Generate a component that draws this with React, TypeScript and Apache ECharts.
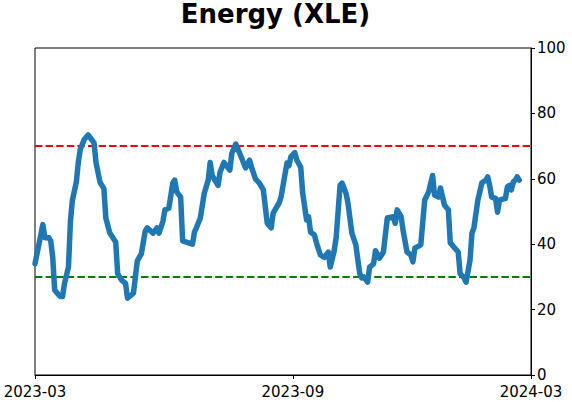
import React, { useEffect, useRef } from "react";
import * as echarts from "echarts";

// trading-day index since 2023-03-01 (axis spans 0..252 trading days)
const days = [
  0, 2, 4, 5, 7, 8, 9, 10, 12, 13, 14, 15, 17, 18, 19, 21, 22, 23, 25, 27, 30, 31, 33, 35, 36, 38, 41, 42, 44, 46,
  47, 50, 52, 54, 56, 57, 60, 62, 63, 65, 66, 68, 70, 71, 72, 74, 75, 78, 80, 81, 82, 84, 86, 88, 89, 90, 92, 93, 94,
  96, 99, 100, 102, 104, 107, 109, 110, 112, 114, 116, 118, 120, 121, 124, 125, 128, 129, 130, 132, 133, 135, 136,
  138, 139, 140, 142, 143, 145, 147, 149, 150, 152, 153, 155, 156, 158, 159, 161, 163, 165, 166, 167, 169, 170, 172,
  173, 175, 177, 179, 182, 183, 184, 186, 187, 189, 191, 192, 193, 196, 198, 200, 202, 203, 205, 206, 208, 210, 211,
  213, 215, 216, 218, 219, 221, 222, 223, 225, 227, 229, 230, 231, 232, 234, 235, 236, 239, 240, 241, 242, 243, 244,
  245, 246,
];
const values = [
  34, 40, 46, 42, 42, 41, 36, 26, 24.5, 24, 24, 28, 33, 47, 53.5, 59, 65, 69, 72, 73.4, 71, 65, 59, 57, 48, 43.4, 40.7,
  31, 29, 28, 23.5, 25, 35, 37, 44, 45, 43.4, 45, 43.4, 47, 50.5, 51, 58.7, 59.6, 56, 54.4, 41, 40.4, 40, 43.7, 45, 48,
  55.6, 59.6, 65, 61, 59, 58, 62, 65, 62.7, 67.8, 70.6, 67.8, 63.3, 65.7, 63.6, 60, 58.7, 56.6, 46.4, 45, 49.5, 52.6,
  54.4, 64.8, 64, 66.7, 68, 65.7, 63.6, 55.6, 47.4, 48.4, 43.7, 42.8, 40.4, 36.7, 36, 37.6, 33, 38, 42, 58, 58.7, 55.6,
  52.6, 43.4, 39.8, 31, 29.7, 30, 28.4, 33, 34, 38, 35.7, 37.6, 48, 48.4, 46.4, 50.5, 48.4, 44.3, 37.6, 36.7, 34.6,
  38.8, 39.8, 53.5, 56, 61, 55, 54.4, 57.2, 52, 50.5, 40.4, 39, 37.6, 31, 29.7, 28.4, 35, 43.4, 45, 53.5, 58.7, 59.6,
  60.6, 58, 54.4, 54, 49.8, 53.5, 54, 57.5, 58, 56.6, 59, 59.6, 60.6, 59.6,
];

const axisStart = 0;
const axisEnd = 252;
const tickDays = [0, 131, 252];
const tickLabels = ["2023-03", "2023-09", "2024-03"];
const upperLevel = 70;
const lowerLevel = 30;

export default function App() {
  const ref = useRef<HTMLDivElement>(null);
  useEffect(() => {
    if (!ref.current) return;
    const chart = echarts.init(ref.current, null, { renderer: "svg" });
    const font = "DejaVu Sans";
    chart.setOption({
      animation: false,
      title: {
        text: "Energy (XLE)",
        left: 275.5,
        textAlign: "center",
        top: 0,
        padding: 0,
        textStyle: { fontFamily: font, fontSize: 26, fontWeight: "bold", color: "#000", lineHeight: 28 },
      },
      grid: {
        left: 35,
        right: 41,
        top: 48,
        bottom: 27,
        show: true,
        borderColor: "#000",
        borderWidth: 1,
        backgroundColor: "transparent",
        containLabel: false,
        outerBoundsMode: "none",
      },
      xAxis: {
        type: "value",
        min: axisStart,
        max: axisEnd,
        axisLine: { show: true, onZero: false, lineStyle: { color: "#000", width: 1 } },
        axisTick: { show: true, length: 4, lineStyle: { color: "#000" }, customValues: tickDays },
        axisLabel: {
          color: "#000",
          fontFamily: font,
          fontSize: 15,
          margin: 9,
          customValues: tickDays,
          formatter: (v: number) => {
            const i = tickDays.indexOf(Math.round(v));
            return i >= 0 ? tickLabels[i] : "";
          },
        },
        splitLine: { show: false },
      },
      yAxis: {
        type: "value",
        position: "right",
        min: 0,
        max: 100,
        interval: 20,
        axisLine: { show: true, onZero: false, lineStyle: { color: "#000", width: 1 } },
        axisTick: { show: true, length: 4, lineStyle: { color: "#000" } },
        axisLabel: { color: "#000", fontFamily: font, fontSize: 15, margin: 6 },
        splitLine: { show: false },
      },
      series: [
        {
          type: "line",
          data: [
            [axisStart, upperLevel],
            [axisEnd, upperLevel],
          ],
          showSymbol: false,
          silent: true,
          z: 1,
          lineStyle: { color: "#ff0000", width: 2, type: [7.4, 3.2] },
        },
        {
          type: "line",
          data: [
            [axisStart, lowerLevel],
            [axisEnd, lowerLevel],
          ],
          showSymbol: false,
          silent: true,
          z: 1,
          lineStyle: { color: "#008000", width: 2, type: [7.4, 3.2] },
        },
        {
          type: "line",
          data: days.map((d, i) => [d, values[i]]),
          showSymbol: false,
          z: 3,
          lineStyle: { color: "#1f77b4", width: 5.5, join: "round", cap: "round" },
        },
      ],
    });
    return () => chart.dispose();
  }, []);
  return <div ref={ref} style={{ width: 572, height: 402, position: "absolute", left: 0, top: 0 }} />;
}
